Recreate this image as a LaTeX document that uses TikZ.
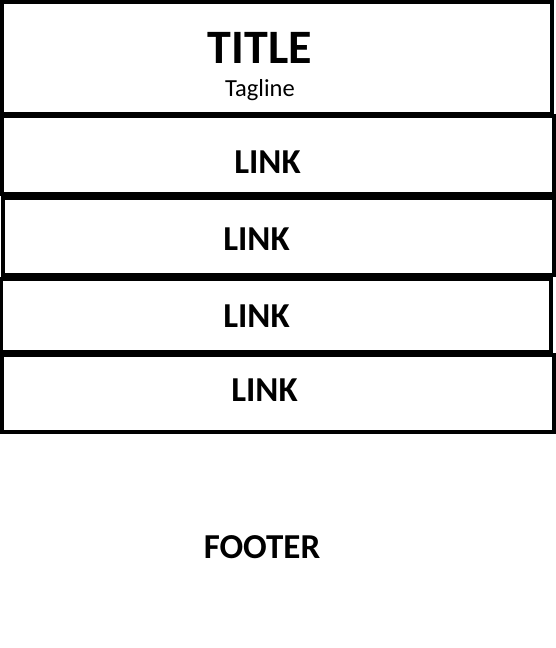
\documentclass[tikz,border=0pt]{standalone}
\usepackage{fontspec}
\setmainfont{Carlito}
\begin{document}
\begin{tikzpicture}[x=1pt,y=-1pt,
  box/.style={draw=black,line width=4pt},
  big/.style={font=\fontsize{48}{50}\selectfont\bfseries,inner sep=0pt,anchor=base},
  lnk/.style={font=\fontsize{35}{38}\selectfont\bfseries,inner sep=0pt,anchor=base},
  tag/.style={font=\fontsize{24.5}{26}\selectfont,inner sep=0pt,anchor=base}]
\useasboundingbox (0,0) rectangle (555,648);
\fill[white] (0,0) rectangle (555,648);
\draw[box] (2,2) rectangle (552,113.5);
\draw[box] (2,115.5) rectangle (553.5,194);
\draw[box] (3,198) rectangle (553.5,275.3);
\draw[box] (1,278.7) rectangle (551,352);
\draw[box] (2,354.7) rectangle (553.5,432.2);
\node[big] (title) at (260,63) {TITLE};
\node[tag] (tagline) at (260,96) {Tagline};
\node[lnk] (link1) at (267.5,173.3) {LINK};
\node[lnk] (link2) at (256.5,250.7) {LINK};
\node[lnk] (link3) at (256.5,327.7) {LINK};
\node[lnk] (link4) at (264.5,401.7) {LINK};
\node[lnk] (footer) at (262,558) {FOOTER};
\end{tikzpicture}
\end{document}
